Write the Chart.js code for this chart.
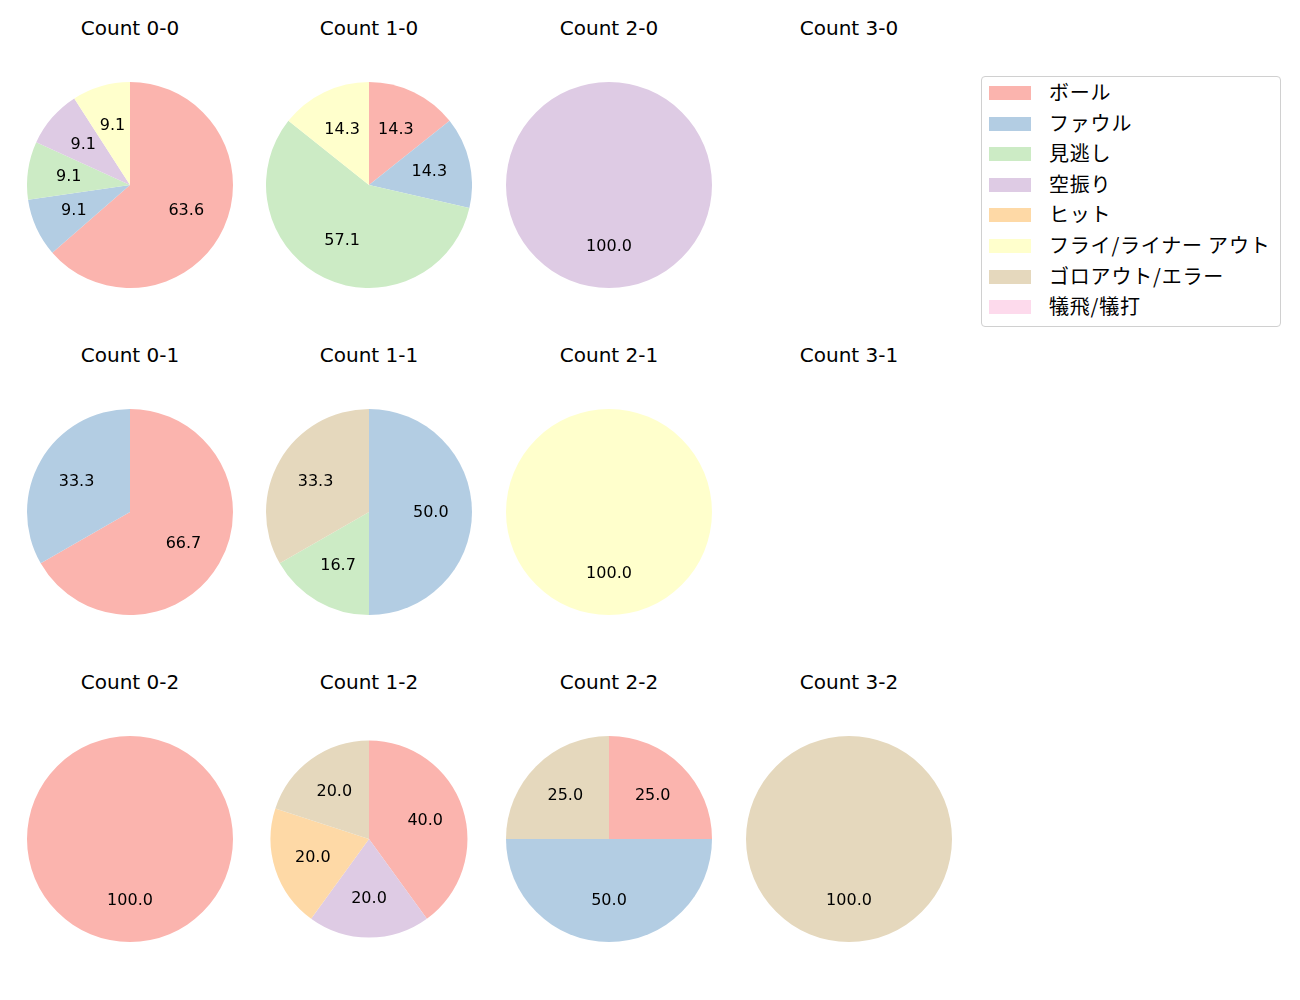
<!DOCTYPE html>
<html><head><meta charset="utf-8">
<script src="https://cdn.jsdelivr.net/npm/chart.js@4"></script>
<style>
body{margin:0;background:#fff;font-family:"DejaVu Sans","Noto Sans CJK JP",sans-serif;}
#wrap{position:relative;width:1300px;height:1000px;}
.t{position:absolute;width:240px;text-align:center;font-size:20px;color:#000;line-height:1;}
canvas{position:absolute;}
#legend{position:absolute;left:981px;top:76px;width:300px;height:251px;border:1px solid #d0d0d0;border-radius:4px;box-sizing:border-box;}
.li{position:absolute;left:7px;height:20px;font-size:20px;line-height:20px;font-family:"Noto Sans CJK JP",sans-serif;}
.sw{position:absolute;left:0;top:3px;width:42px;height:14px;}
.lt{position:absolute;left:60px;top:-1px;white-space:nowrap;letter-spacing:0.8px;}
</style></head><body><div id="wrap"><div id="legend"></div></div>
<script>
const categories=["ボール","ファウル","見逃し","空振り","ヒット","フライ/ライナー アウト","ゴロアウト/エラー","犠飛/犠打"];
const colors=["#fbb4ae","#b3cde3","#ccebc5","#decbe4","#fed9a6","#ffffcc","#e5d8bd","#fddaec"];
const countLabels=["0-0","1-0","2-0","3-0","0-1","1-1","2-1","3-1","0-2","1-2","2-2","3-2"];
const c00=[63.6,9.1,9.1,9.1,0,9.1,0,0];
const c10=[14.3,14.3,57.1,0,0,14.3,0,0];
const c20=[0,0,0,100,0,0,0,0];
const c30=[0,0,0,0,0,0,0,0];
const c01=[66.7,33.3,0,0,0,0,0,0];
const c11=[0,50.0,16.7,0,0,0,33.3,0];
const c21=[0,0,0,0,0,100,0,0];
const c31=[0,0,0,0,0,0,0,0];
const c02=[100,0,0,0,0,0,0,0];
const c12=[40.0,0,0,20.0,20.0,0,20.0,0];
const c22=[25.0,50.0,0,0,0,0,25.0,0];
const c32=[0,0,0,0,0,0,100,0];
const allData=[c00,c10,c20,c30,c01,c11,c21,c31,c02,c12,c22,c32];

const colX=[130,369,609,849], rowY=[185,512,839], titleY=[28,355,682];
const R=103;
const wrap=document.getElementById('wrap');

const pctPlugin={id:'pct',afterDatasetsDraw(chart){
  const ctx=chart.ctx; const meta=chart.getDatasetMeta(0);
  const data=chart.data.datasets[0].data;
  ctx.save();ctx.fillStyle='#000';ctx.font='16px "DejaVu Sans",sans-serif';
  ctx.textAlign='center';ctx.textBaseline='middle';
  meta.data.forEach((arc,i)=>{
    if(!data[i])return;
    const p=arc.getProps(['x','y','startAngle','endAngle','outerRadius'],true);
    const a=(p.startAngle+p.endAngle)/2, r=p.outerRadius*0.6;
    ctx.fillText(data[i].toFixed(1),p.x+Math.cos(a)*r,p.y+Math.sin(a)*r+0.5);
  });
  ctx.restore();
}};

allData.forEach((vals,k)=>{
  const col=k%4,row=Math.floor(k/4);
  const t=document.createElement('div');t.className='t';
  t.style.left=(colX[col]-120)+'px';t.style.top=(titleY[row]-10)+'px';
  t.textContent='Count '+countLabels[k];wrap.appendChild(t);
  if(vals.every(v=>v===0))return;
  const cv=document.createElement('canvas');
  cv.width=2*R;cv.height=2*R;
  cv.style.left=(colX[col]-R)+'px';cv.style.top=(rowY[row]-R)+'px';
  cv.style.width=2*R+'px';cv.style.height=2*R+'px';
  wrap.appendChild(cv);
  new Chart(cv,{type:'pie',data:{labels:categories,datasets:[{data:vals,backgroundColor:colors,borderWidth:0}]},
    options:{responsive:false,animation:false,radius:(countLabels[k]==='1-2'?'95.6%':'100%'),
      layout:{padding:0},plugins:{legend:{display:false},tooltip:{enabled:false}}},
    plugins:[pctPlugin]});
});

const lg=document.getElementById('legend');
categories.forEach((c,i)=>{
  const d=document.createElement('div');d.className='li';d.style.top=(6+i*30.6)+'px';
  d.innerHTML='<div class="sw" style="background:'+colors[i]+'"></div><div class="lt">'+c+'</div>';
  lg.appendChild(d);
});
</script></body></html>
